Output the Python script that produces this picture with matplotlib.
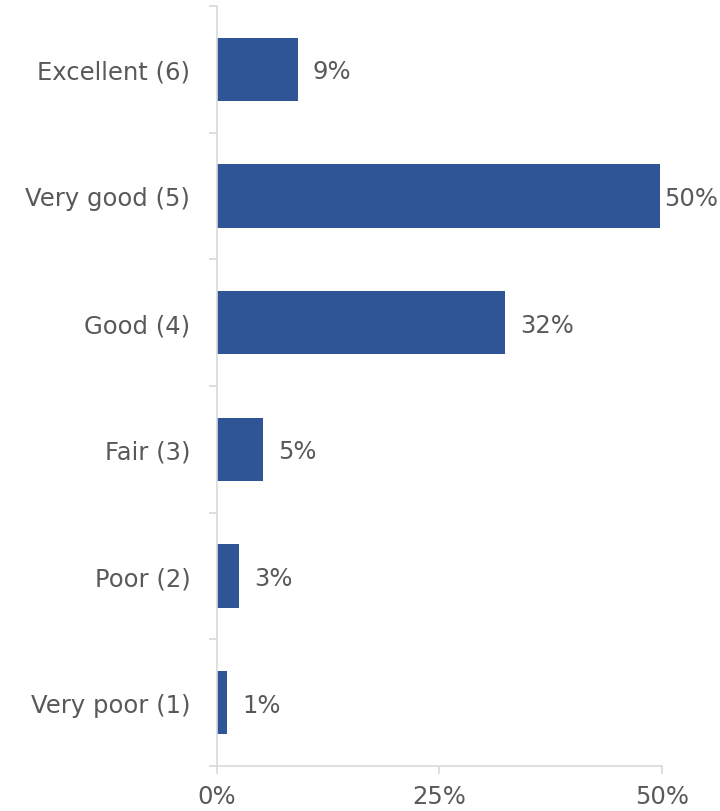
import numpy as np
import matplotlib.pyplot as plt
from matplotlib.ticker import FixedLocator

# survey ratings, top to bottom as shown
categories = ["Excellent (6)", "Very good (5)", "Good (4)", "Fair (3)", "Poor (2)", "Very poor (1)"]
percents = [9.1, 49.8, 32.4, 5.2, 2.5, 1.2]
labels = ["9%", "50%", "32%", "5%", "3%", "1%"]
xticks = [0, 25, 50]
xticklabels = ["0%", "25%", "50%"]

bar_color = "#2F5597"
grid_gray = "#D9D9D9"
text_gray = "#595959"

plt.rcParams['font.family'] = ['DejaVu Sans']
fs = 17.5

fig = plt.figure(figsize=(7.2, 8.12), dpi=100)
ax = fig.add_axes([0.301, 0.0554, 0.618, 0.9360])

y = np.arange(len(categories))
ax.barh(y, percents, height=0.5, color=bar_color)

for yi, val, lab in zip(y, percents, labels):
    # keep the widest label inside the figure
    off = 15 if val < 45 else 4
    ax.annotate(lab, (val, yi), xytext=(off, -2), textcoords="offset pixels",
                va="center", ha="left", fontsize=fs, color=text_gray)

ax.set_xlim(0, 50)
ax.set_ylim(len(categories) - 0.5, -0.5)
ax.set_yticks(y)
ax.set_yticklabels(categories, fontsize=fs, color=text_gray)
ax.yaxis.set_minor_locator(FixedLocator(np.arange(-0.5, len(categories), 1.0)))
ax.tick_params(axis="y", which="major", length=0, pad=19)
ax.tick_params(axis="y", which="minor", length=6, color=grid_gray, width=1.2)

ax.set_xticks(xticks)
ax.set_xticklabels(xticklabels, fontsize=fs, color=text_gray)
ax.tick_params(axis="x", length=6, color=grid_gray, width=1.2, pad=7)

for side in ["top", "right"]:
    ax.spines[side].set_visible(False)
for side in ["left", "bottom"]:
    ax.spines[side].set_color(grid_gray)
    ax.spines[side].set_linewidth(1.2)

plt.savefig("out.png", dpi=100)
